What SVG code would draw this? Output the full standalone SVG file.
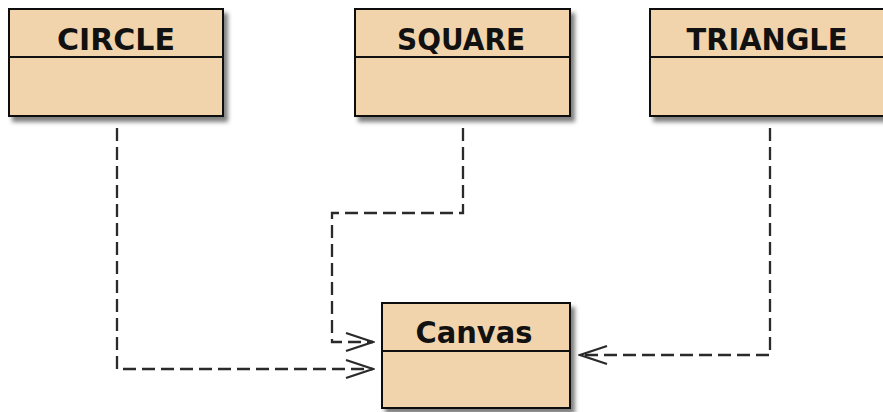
<svg xmlns="http://www.w3.org/2000/svg" width="883" height="412" viewBox="0 0 883 412">
  <defs>
    <filter id="shadow" x="-10%" y="-10%" width="130%" height="140%">
      <feDropShadow dx="4" dy="5" stdDeviation="2.2" flood-color="#000" flood-opacity="0.5"/>
    </filter>
    <marker id="open" markerUnits="userSpaceOnUse" markerWidth="32" markerHeight="24" viewBox="-30 -12 32 24" refX="0" refY="0" orient="auto">
      <path d="M-27,-9 L0,0 L-27,9" fill="none" stroke="#2a2a2a" stroke-width="2.3"/>
    </marker>
  </defs>
  <style>
    .box { fill: #f1d4ac; stroke: #111; stroke-width: 2; }
    .sep { stroke: #111; stroke-width: 2; }
    .title { font-family: "DejaVu Sans", "Liberation Sans", sans-serif; font-weight: bold; font-size: 31px; fill: #111; text-anchor: middle; }
    .dep { fill: none; stroke: #2a2a2a; stroke-width: 2.3; stroke-dasharray: 13 6; marker-end: url(#open); }
  </style>
  <rect width="883" height="412" fill="#fff"/>

  <g id="circle">
    <rect class="box" x="9" y="9" width="214" height="107" filter="url(#shadow)"/>
    <line class="sep" x1="9" y1="57" x2="223" y2="57"/>
    <text class="title" x="116" y="50" textLength="118" lengthAdjust="spacingAndGlyphs">CIRCLE</text>
  </g>

  <g id="square">
    <rect class="box" x="355" y="9" width="215" height="107" filter="url(#shadow)"/>
    <line class="sep" x1="355" y1="57" x2="570" y2="57"/>
    <text class="title" x="461" y="50" textLength="128" lengthAdjust="spacingAndGlyphs">SQUARE</text>
  </g>

  <g id="triangle">
    <rect class="box" x="650" y="9" width="245" height="107" filter="url(#shadow)"/>
    <line class="sep" x1="650" y1="57" x2="895" y2="57"/>
    <text class="title" x="767" y="50" textLength="161" lengthAdjust="spacingAndGlyphs">TRIANGLE</text>
  </g>

  <g id="canvas">
    <rect class="box" x="382" y="303" width="188" height="105" filter="url(#shadow)"/>
    <line class="sep" x1="382" y1="351" x2="570" y2="351"/>
    <text class="title" x="474" y="343" textLength="117" lengthAdjust="spacingAndGlyphs">Canvas</text>
  </g>

  <g id="connectors">
    <path class="dep" d="M117,128 V369 H373"/>
    <path class="dep" d="M463,128 V213 H332 V342 H373"/>
    <path class="dep" d="M770,128 V355 H580"/>
  </g>
</svg>
